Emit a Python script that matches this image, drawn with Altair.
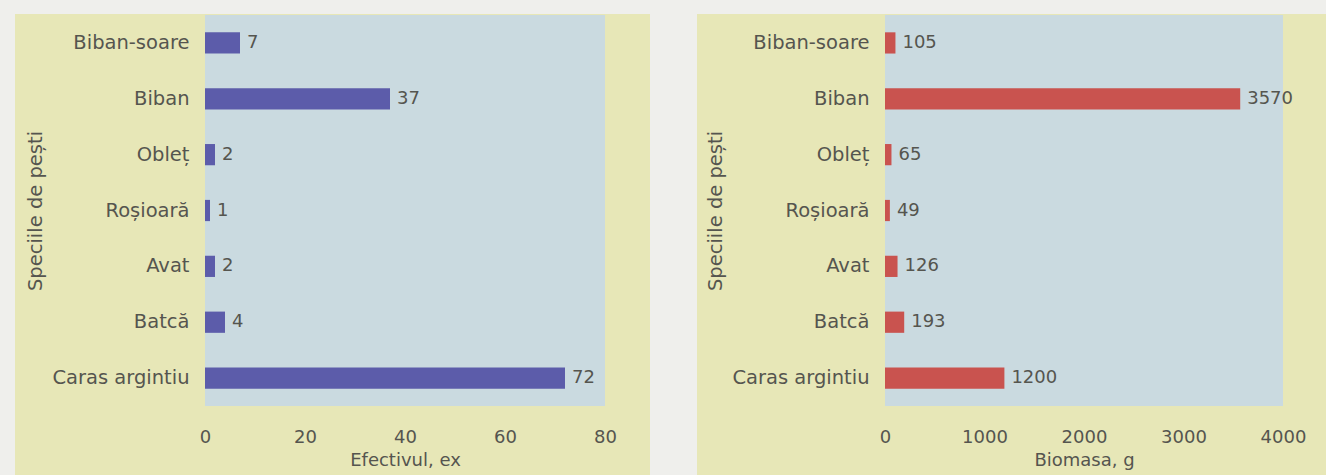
import altair as alt
import pandas as pd

species = ["Biban-soare", "Biban", "Obleț", "Roșioară", "Avat", "Batcă", "Caras argintiu"]
efectiv = [7, 37, 2, 1, 2, 4, 72]
biomasa = [105, 3570, 65, 49, 126, 193, 1200]

YELLOW = "#e7e7b7"
PLOT = "#cadae0"
TEXT = "#55554f"
FONT = "DejaVu Sans"
H = 391


def panel(values, color, xtitle, xmax, width, bg_left, bg_right):
    df = pd.DataFrame({"species": species, "value": values})
    one = pd.DataFrame({"k": [0]})
    bg = alt.Chart(one).mark_rect(color=YELLOW).encode(
        x=alt.value(bg_left), x2=alt.value(bg_right), y=alt.value(-1), y2=alt.value(460)
    )
    plot = alt.Chart(one).mark_rect(color=PLOT).encode(
        x=alt.value(0), x2=alt.value(width), y=alt.value(0), y2=alt.value(H)
    )
    yenc = alt.Y(
        "species:N",
        sort=species,
        scale=alt.Scale(paddingInner=0.62, paddingOuter=0.31),
        axis=alt.Axis(
            title="Speciile de pești",
            domain=False, ticks=False, grid=False,
            labelPadding=16, titlePadding=6,
            labelFont=FONT, labelFontSize=19.5, labelColor=TEXT,
            titleFont=FONT, titleFontSize=19.5, titleColor=TEXT, titleFontWeight="normal",
            zindex=1,
        ),
    )
    xenc = alt.X(
        "value:Q",
        scale=alt.Scale(domain=[0, xmax], nice=False),
        axis=alt.Axis(
            title=xtitle, values=[xmax * i / 4 for i in range(5)], format="d",
            domain=False, ticks=False, grid=False, labelOverlap=False,
            labelPadding=22, titlePadding=5,
            labelFont=FONT, labelFontSize=18, labelColor=TEXT, labelFlush=False,
            titleFont=FONT, titleFontSize=18, titleColor=TEXT, titleFontWeight="normal",
            zindex=1,
        ),
    )
    bars = alt.Chart(df).mark_bar(color=color).encode(y=yenc, x=xenc)
    labels = alt.Chart(df).mark_text(
        align="left", baseline="middle", dx=7, font=FONT, fontSize=18, color=TEXT
    ).encode(y=alt.Y("species:N", sort=species), x="value:Q", text="value:Q")
    return alt.layer(bg, plot, bars, labels).properties(width=width, height=H)


left = panel(efectiv, "#5c5caa", "Efectivul, ex", 80, 400, -190, 445)
right = panel(biomasa, "#c9534f", "Biomasa, g", 4000, 398, -188, 441)

chart = alt.hconcat(left, right, spacing=47).properties(
    background="#efefec",
    padding={"left": 15, "top": 14, "right": 0, "bottom": 0},
).configure_view(stroke=None, fill=None)

chart.save("out.html", embed_options={"renderer": "svg", "actions": False})
